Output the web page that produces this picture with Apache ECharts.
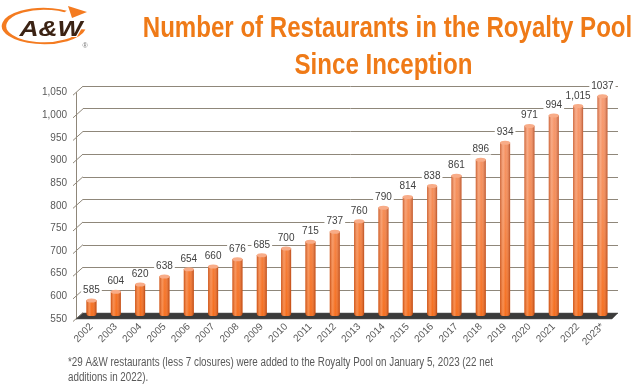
<!DOCTYPE html>
<html>
<head>
<meta charset="utf-8">
<script src="https://cdn.jsdelivr.net/npm/echarts@6/dist/echarts.min.js"></script>
<style>
html,body{margin:0;padding:0;background:#fff;}
#chart{width:640px;height:392px;}
</style>
</head>
<body>
<div id="chart"></div>
<script>
const years = ['2002','2003','2004','2005','2006','2007','2008','2009','2010','2011','2012','2013','2014','2015','2016','2017','2018','2019','2020','2021','2022','2023*'];
const restaurants = [585,604,620,638,654,660,676,685,700,715,737,760,790,814,838,861,896,934,971,994,1015,1037];
const valueLabels = ['585','604','620','638','654','660','676','685','700','715','737','760','790','814','838','861','896','934','971','994','1,015','1037'];
const yTicks = [550,600,650,700,750,800,850,900,950,1000,1050];
const titleLine1 = 'Number of Restaurants in the Royalty Pool';
const titleLine2 = 'Since Inception';
const footLine1 = '*29 A&W restaurants (less 7 closures) were added to the Royalty Pool on January 5, 2023 (22 net';
const footLine2 = 'additions in 2022).';

const ORANGE = '#EF7A17';
const GRID_C = '#8f877a';
const TXT = '#595959';
const TITLE_FONT = 'bold 29px "Liberation Sans", Arial, sans-serif';
const FOOT_FONT = '12.5px "Liberation Sans", Arial, sans-serif';

const chart = echarts.init(document.getElementById('chart'), null, {renderer:'canvas'});

const option = {
  animation: false,
  backgroundColor: '#fff',
  grid: [
    {left: 79.3, right: 25.4, top: 90, bottom: 76},   // bars (mid depth)
    {left: 83, right: 22, top: 86, bottom: 79},       // back wall
    {left: 76, right: 28, top: 92.7, bottom: 73}      // front axis
  ],
  xAxis: [
    {gridIndex: 0, type: 'category', data: years, axisLine: {show: false}, axisTick: {show: false},
     axisLabel: {rotate: 45, fontSize: 10, color: TXT, margin: 9, fontFamily: '"Liberation Sans",Arial,sans-serif', interval: 0}},
    {gridIndex: 1, type: 'value', min: 0, max: 1, show: false},
    {gridIndex: 2, type: 'value', min: 0, max: 1, show: false}
  ],
  yAxis: [
    {gridIndex: 0, type: 'value', min: 550, max: 1050, interval: 50, show: false},
    {gridIndex: 1, type: 'value', min: 550, max: 1050, interval: 50,
     axisLine: {show: false}, axisTick: {show: false}, axisLabel: {show: false},
     splitLine: {show: true, lineStyle: {color: GRID_C, width: 1}}},
    {gridIndex: 2, type: 'value', min: 550, max: 1050, interval: 50,
     axisLine: {show: true, lineStyle: {color: GRID_C, width: 1}}, axisTick: {show: false},
     splitLine: {show: false},
     axisLabel: {fontSize: 10, color: TXT, margin: 9, fontFamily: '"Liberation Sans",Arial,sans-serif',
       formatter: v => v.toLocaleString('en-US')}}
  ],
  series: [
    {
      type: 'custom', xAxisIndex: 2, yAxisIndex: 2, z: 1, silent: true,
      data: yTicks.map(v => [0, v]),
      renderItem: (params, api) => {
        const p = api.coord([api.value(0), api.value(1)]);
        return {type: 'line', shape: {x1: p[0] - 3, y1: p[1] + 2.5, x2: p[0] + 7, y2: p[1] - 6.5},
          style: {stroke: GRID_C, lineWidth: 1}};
      }
    },
    {
      type: 'custom', xAxisIndex: 2, yAxisIndex: 2, z: 2, silent: true,
      data: [[0, yTicks[0]]],
      renderItem: (params, api) => {
        const a = api.coord([0, api.value(1)]);
        const b = api.coord([1, api.value(1)]);
        return {type: 'polygon', shape: {points: [[a[0], a[1]], [b[0], b[1]], [b[0] + 6, b[1] - 6], [a[0] + 7, a[1] - 6]]},
          style: {fill: '#3b3b3b', stroke: '#555', lineWidth: 0.5}};
      }
    },
    {
      type: 'bar', xAxisIndex: 0, yAxisIndex: 0, z: 3, barWidth: 10, barGap: '-100%',
      data: restaurants,
      itemStyle: {
        borderRadius: [0, 0, 3, 3],
        color: {type: 'linear', x: 0, y: 90, x2: 0, y2: 316, global: true,
          colorStops: [{offset: 0, color: '#F7956B'}, {offset: 0.5, color: '#F5864C'}, {offset: 1, color: '#F5650F'}]}
      }
    },
    {
      type: 'bar', xAxisIndex: 0, yAxisIndex: 0, z: 4, barWidth: 10, barGap: '-100%',
      data: restaurants,
      itemStyle: {
        borderRadius: [0, 0, 3, 3],
        color: {type: 'linear', x: 0, y: 0, x2: 1, y2: 0,
          colorStops: [
            {offset: 0, color: 'rgba(150,40,0,0.45)'},
            {offset: 0.3, color: 'rgba(255,255,255,0.25)'},
            {offset: 0.55, color: 'rgba(255,255,255,0.05)'},
            {offset: 1, color: 'rgba(130,30,0,0.5)'}]}
      },
      label: {
        show: true, position: 'top', distance: 5, fontSize: 10, color: '#404040',
        fontFamily: '"Liberation Sans",Arial,sans-serif',
        backgroundColor: '#fff', padding: [0, 2],
        formatter: p => valueLabels[p.dataIndex]
      }
    },
    {
      type: 'pictorialBar', xAxisIndex: 0, yAxisIndex: 0, z: 5,
      symbol: 'circle', symbolSize: [10, 4], symbolPosition: 'end', symbolOffset: [0, '-50%'],
      data: restaurants,
      itemStyle: {color: '#F8AC88', borderColor: '#D9642C', borderWidth: 0.8}
    }
  ],
  graphic: [
    {type: 'arc', x: 44, y: 26, scaleY: 0.43,
     shape: {cx: 0, cy: 0, r: 40, startAngle: 0.2, endAngle: Math.PI * 2 - 1.0, clockwise: true},
     style: {stroke: '#F47B20', lineWidth: 4.5, fill: null, strokeNoScale: true}},
    {type: 'polygon', shape: {points: [[68, 6], [87, 12], [72, 18]]}, style: {fill: '#F47B20'}},
    {type: 'text', x: 51, y: 30, scaleX: 1.2,
     style: {text: 'A&W', font: 'italic 900 22px "Liberation Sans", Arial, sans-serif', fill: '#3B2314',
       stroke: '#ffffff', lineWidth: 2, align: 'center', verticalAlign: 'middle'}},
    {type: 'text', x: 85, y: 46,
     style: {text: '®', font: '7px "Liberation Sans", Arial, sans-serif', fill: '#777', align: 'center', verticalAlign: 'middle'}},
    {type: 'text', x: 387.5, y: 29, scaleX: 0.83,
     style: {text: titleLine1, font: TITLE_FONT, fill: ORANGE, align: 'center', verticalAlign: 'middle'}},
    {type: 'text', x: 383.5, y: 66, scaleX: 0.83,
     style: {text: titleLine2, font: TITLE_FONT, fill: ORANGE, align: 'center', verticalAlign: 'middle'}},
    {type: 'text', x: 68, y: 356, scaleX: 0.785,
     style: {text: footLine1, font: FOOT_FONT, fill: TXT, align: 'left', verticalAlign: 'top'}},
    {type: 'text', x: 68, y: 371, scaleX: 0.785,
     style: {text: footLine2, font: FOOT_FONT, fill: TXT, align: 'left', verticalAlign: 'top'}}
  ]
};
chart.setOption(option);
</script>
</body>
</html>
